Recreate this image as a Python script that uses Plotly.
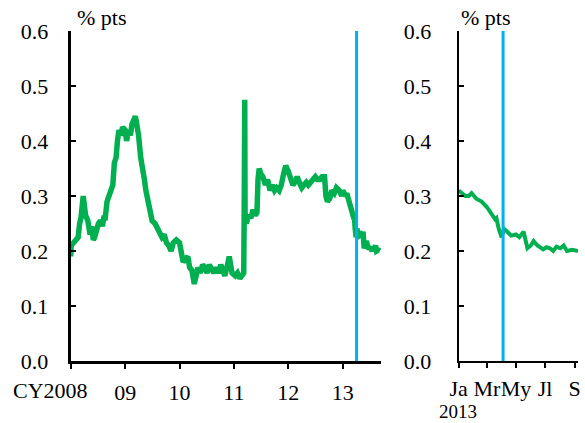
import plotly.graph_objects as go

# ---- data ----
dates_0812 = [
    "2008-01-01", "2008-01-04", "2008-01-20", "2008-02-05", "2008-02-20", "2008-03-01", "2008-03-10",
    "2008-03-25", "2008-04-01", "2008-04-10", "2008-04-25", "2008-05-10", "2008-05-20", "2008-06-01",
    "2008-06-10", "2008-06-20", "2008-07-05", "2008-07-20", "2008-08-01", "2008-08-10", "2008-08-20",
    "2008-09-01", "2008-09-15", "2008-10-01", "2008-10-10", "2008-10-20", "2008-11-01", "2008-11-10",
    "2008-11-20", "2008-12-01", "2008-12-15", "2009-01-01", "2009-01-10", "2009-01-25", "2009-02-05",
    "2009-02-15", "2009-03-10", "2009-03-20", "2009-04-01", "2009-04-15", "2009-05-01", "2009-05-10",
    "2009-05-20", "2009-06-01", "2009-06-15", "2009-07-01", "2009-07-20", "2009-08-05", "2009-08-20",
    "2009-09-05", "2009-09-20", "2009-10-05", "2009-10-20", "2009-11-05", "2009-11-20", "2009-12-10",
    "2010-01-01", "2010-01-10", "2010-01-25", "2010-02-10", "2010-02-25", "2010-03-10", "2010-03-25",
    "2010-04-10", "2010-04-20", "2010-05-05", "2010-05-20", "2010-06-05", "2010-06-20", "2010-07-05",
    "2010-07-20", "2010-08-05", "2010-08-20", "2010-09-05", "2010-09-20", "2010-10-05", "2010-10-20",
    "2010-11-01", "2010-11-15", "2010-12-01", "2010-12-10", "2010-12-20", "2011-01-10", "2011-01-25",
    "2011-02-10", "2011-03-01", "2011-03-08", "2011-03-11", "2011-03-15", "2011-03-17", "2011-03-25",
    "2011-04-10", "2011-04-25", "2011-05-10", "2011-05-25", "2011-06-05", "2011-06-12", "2011-06-20",
    "2011-07-01", "2011-07-15", "2011-08-01", "2011-08-15", "2011-09-01", "2011-09-15", "2011-10-01",
    "2011-10-15", "2011-11-01", "2011-11-15", "2011-12-01", "2011-12-15", "2012-01-01", "2012-01-15",
    "2012-02-01", "2012-02-15", "2012-03-01", "2012-03-15", "2012-04-01", "2012-04-15", "2012-05-01",
    "2012-05-15", "2012-06-01", "2012-06-15", "2012-07-01", "2012-07-15", "2012-08-01", "2012-08-15",
    "2012-09-01", "2012-09-10", "2012-09-20", "2012-10-05", "2012-10-20", "2012-11-05", "2012-11-20",
    "2012-12-10", "2012-12-25",
]
values_0812 = [
    0.19, 0.21, 0.215, 0.22, 0.225, 0.25, 0.26,
    0.30, 0.27, 0.265, 0.255, 0.23, 0.245, 0.22,
    0.225, 0.24, 0.25, 0.255, 0.245, 0.26, 0.26,
    0.29, 0.30, 0.31, 0.32, 0.36, 0.37, 0.40,
    0.42, 0.41, 0.425, 0.42, 0.40, 0.42, 0.41,
    0.43, 0.445, 0.43, 0.41, 0.37, 0.35, 0.33,
    0.31, 0.29, 0.27, 0.255, 0.25, 0.24, 0.235,
    0.225, 0.23, 0.215, 0.21, 0.20, 0.215, 0.22,
    0.215, 0.20, 0.18, 0.185, 0.19, 0.17, 0.165,
    0.14, 0.155, 0.17, 0.16, 0.175, 0.17, 0.16,
    0.175, 0.165, 0.16, 0.17, 0.16, 0.175, 0.165,
    0.155, 0.17, 0.19, 0.175, 0.16, 0.155, 0.16,
    0.15, 0.155, 0.16, 0.26, 0.475, 0.27, 0.25,
    0.265, 0.26, 0.275, 0.265, 0.27, 0.33, 0.35,
    0.34, 0.335, 0.32, 0.33, 0.31, 0.32, 0.31,
    0.315, 0.31, 0.32, 0.34, 0.355, 0.345, 0.33,
    0.32, 0.325, 0.335, 0.325, 0.315, 0.32, 0.325,
    0.32, 0.325, 0.33, 0.335, 0.33, 0.33, 0.335,
    0.335, 0.30, 0.29, 0.295, 0.31, 0.305, 0.315,
    0.31, 0.30,
]

dates_2013 = [
    "2013-01-01", "2013-01-08", "2013-01-15", "2013-01-22", "2013-01-28", "2013-02-07", "2013-02-18",
    "2013-03-01", "2013-03-11", "2013-03-18", "2013-03-21", "2013-03-26", "2013-04-01", "2013-04-06",
    "2013-04-13", "2013-04-21", "2013-05-01", "2013-05-08", "2013-05-17", "2013-05-25", "2013-06-01",
    "2013-06-07", "2013-06-15", "2013-06-27", "2013-07-04", "2013-07-11", "2013-07-18", "2013-07-25",
    "2013-08-02", "2013-08-09", "2013-08-16", "2013-08-27", "2013-09-08",
]
values_2013 = [
    0.31, 0.305, 0.30, 0.30, 0.305, 0.295, 0.29,
    0.28, 0.265, 0.258, 0.26, 0.24, 0.225, 0.24,
    0.235, 0.228, 0.23, 0.225, 0.235, 0.205, 0.21,
    0.218, 0.21, 0.203, 0.207, 0.205, 0.20, 0.208,
    0.205, 0.21, 0.20, 0.202, 0.20,
]

event_date = "2013-04-04"

left_tickvals = ["2008-01-01", "2009-01-01", "2010-01-01", "2011-01-01", "2012-01-01", "2013-01-01"]
left_ticktext = ["", "09", "10", "11", "12", "13"]
right_tickvals = ["2013-01-01", "2013-03-01", "2013-05-01", "2013-07-01", "2013-09-01"]
right_ticktext = ["Ja", "Mr", "My", "Jl", "S"]
y_tickvals = [0.0, 0.1, 0.2, 0.3, 0.4, 0.5, 0.6]
y_ticktext = ["0.0", "0.1", "0.2", "0.3", "0.4", "0.5", "0.6"]

GREEN = "#00B050"
BLUE = "#00B0F0"
FONT = "Liberation Serif, Times New Roman, serif"

fig = go.Figure()
fig.add_trace(go.Scatter(x=dates_0812 + dates_2013, y=values_0812 + values_2013,
                         mode="lines", line=dict(color=GREEN, width=5.5),
                         xaxis="x", yaxis="y", showlegend=False, hoverinfo="skip"))
fig.add_trace(go.Scatter(x=dates_2013, y=values_2013,
                         mode="lines", line=dict(color=GREEN, width=4),
                         xaxis="x2", yaxis="y2", showlegend=False, hoverinfo="skip"))

W, H = 585, 423
yd = [(H - 361) / H, (H - 31) / H]

common_font = dict(family=FONT, size=22, color="black")
year_font = dict(family=FONT, size=19, color="black")

fig.update_layout(
    template="none",
    width=W, height=H, autosize=False,
    margin=dict(l=0, r=0, t=0, b=0, pad=0),
    paper_bgcolor="white", plot_bgcolor="white",
    font=common_font,
    xaxis=dict(domain=[70.7 / W, 381 / W], type="date", automargin=False,
               range=["2008-01-01", "2013-09-15"],
               tickvals=left_tickvals, ticktext=left_ticktext, tickangle=0,
               showline=True, linecolor="black", linewidth=3,
               ticks="outside", ticklen=5, tickwidth=2, tickcolor="black",
               showgrid=False, zeroline=False, ticklabelstandoff=5,
               tickfont=common_font),
    yaxis=dict(domain=yd, range=[0, 0.6], automargin=False,
               tickvals=y_tickvals, ticktext=y_ticktext,
               showline=True, linecolor="black", linewidth=3,
               ticks="inside", ticklen=5, tickwidth=2, tickcolor="black",
               showgrid=False, zeroline=False, ticklabelstandoff=15,
               tickfont=common_font),
    xaxis2=dict(domain=[458.7 / W, 578 / W], type="date", anchor="y2", automargin=False,
                range=["2013-01-01", "2013-09-08"],
                tickvals=right_tickvals, ticktext=right_ticktext, tickangle=0,
                showline=True, linecolor="black", linewidth=2,
                ticks="outside", ticklen=5, tickwidth=2, tickcolor="black",
                showgrid=False, zeroline=False, ticklabelstandoff=2,
                tickfont=common_font),
    yaxis2=dict(domain=yd, range=[0, 0.6], anchor="x2", automargin=False,
                tickvals=y_tickvals, ticktext=y_ticktext,
                showline=True, linecolor="black", linewidth=2,
                ticks="inside", ticklen=5, tickwidth=2, tickcolor="black",
                showgrid=False, zeroline=False, ticklabelstandoff=21,
                tickfont=common_font),
    shapes=[
        dict(type="line", xref="x", yref="y", x0=event_date, x1=event_date, y0=0, y1=0.6,
             line=dict(color=BLUE, width=3), layer="above"),
        dict(type="line", xref="x2", yref="y2", x0=event_date, x1=event_date, y0=0, y1=0.6,
             line=dict(color=BLUE, width=3), layer="above"),
    ],
    annotations=[
        dict(text="% pts", xref="paper", yref="paper", x=75 / W, y=(H - 18) / H,
             xanchor="left", yanchor="middle", showarrow=False, font=common_font),
        dict(text="% pts", xref="paper", yref="paper", x=459 / W, y=(H - 18) / H,
             xanchor="left", yanchor="middle", showarrow=False, font=common_font),
        dict(text="CY2008", xref="x", yref="paper", x="2008-01-01", xshift=-20,
             y=(H - 390) / H, xanchor="center", yanchor="middle", showarrow=False, font=common_font),
        dict(text="2013", xref="paper", yref="paper", x=457.5 / W, y=(H - 411) / H,
             xanchor="center", yanchor="middle", showarrow=False, font=year_font),
    ],
)

fig.write_html("out.html", config={"displayModeBar": False},
               post_script="document.body.style.margin='0px';document.body.style.padding='0px';")
